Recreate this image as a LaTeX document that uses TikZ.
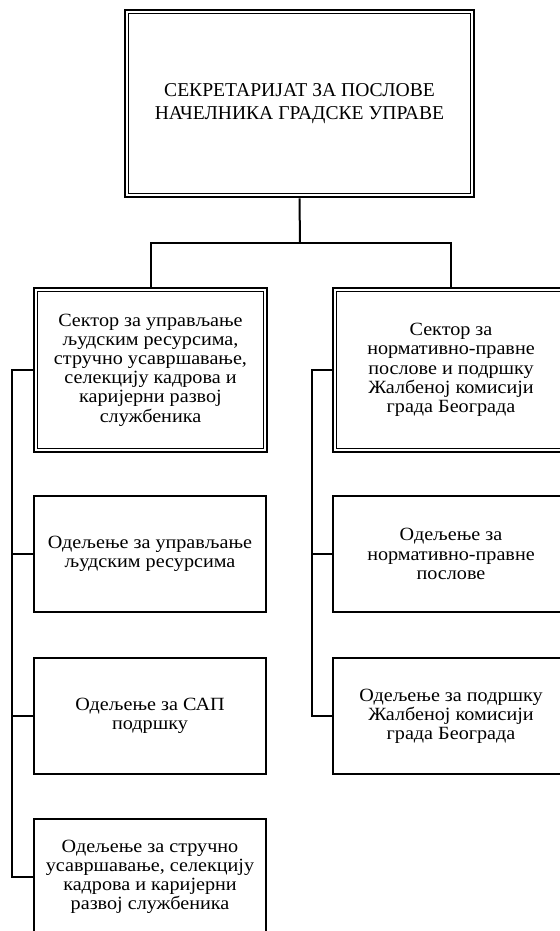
\documentclass[tikz,border=0pt]{standalone}
\usepackage{fontspec}
\setmainfont{Liberation Serif}
\newfontfamily\siroki[FakeStretch=1.08]{Liberation Serif}
\usetikzlibrary{calc}

\tikzset{
  kutija/.style={draw, line width=1.6pt, align=center, inner sep=2pt,
    font=\siroki\fontsize{14}{14.4}\selectfont},
  dupla/.style={kutija, line width=2pt},
  veza/.style={line width=1.5pt},
}

\begin{document}
\begin{tikzpicture}[x=0.75pt,y=-0.75pt]
\useasboundingbox (0,0) rectangle (560,931);

% sekretarijat (gore)
\node[dupla, minimum width=261.75pt, minimum height=140.25pt,
  font=\fontsize{14.7}{17.2}\selectfont] (sek) at (299.5,103.5)
  {СЕКРЕТАРИЈАТ ЗА ПОСЛОВЕ\\НАЧЕЛНИКА ГРАДСКЕ УПРАВЕ};

% sektori
\node[dupla, minimum width=174.75pt, minimum height=123pt] (sektorA) at (150.5,370)
  {Сектор за управљање\\људским ресурсима,\\стручно усавршавање,\\селекцију кадрова и\\каријерни развој\\службеника};
\node[dupla, minimum width=177pt, minimum height=123pt] (sektorB) at (451,370)
  {Сектор за\\нормативно-правне\\послове и подршку\\Жалбеној комисији\\града Београда};

% unutrasnja linija duplih okvira
\foreach \n in {sek,sektorA,sektorB}
  \draw[line width=0.9pt] ($(\n.north west)+(4.5,4.5)$) rectangle ($(\n.south east)+(-4.5,-4.5)$);

% odeljenja (levo)
\node[kutija, minimum width=174pt, minimum height=87pt] (odA1) at (150,554)
  {Одељење за управљање\\људским ресурсима};
\node[kutija, minimum width=174pt, minimum height=87pt] (odA2) at (150,716)
  {Одељење за САП\\подршку};
\node[kutija, minimum width=174pt, minimum height=87pt] (odA3) at (150,877)
  {Одељење за стручно\\усавршавање, селекцију\\кадрова и каријерни\\развој службеника};

% odeljenja (desno)
\node[kutija, minimum width=177pt, minimum height=87pt] (odB1) at (451,554)
  {Одељење за\\нормативно-правне\\послове};
\node[kutija, minimum width=177pt, minimum height=87pt] (odB2) at (451,716)
  {Одељење за подршку\\Жалбеној комисији\\града Београда};

% veze
\coordinate (grana) at (300,243);
\coordinate (stubA) at (12,0);
\coordinate (stubB) at (312,0);

\draw[veza] (sek.south) -- (grana);
\draw[veza] (sektorA.north) |- (grana) -| (sektorB.north);

\draw[veza] (sektorA.west) -- (sektorA.west -| stubA) |- (odA3.west);
\foreach \n in {odA1,odA2}
  \draw[veza] (\n.west) -- (\n.west -| stubA);

\draw[veza] (sektorB.west) -- (sektorB.west -| stubB) |- (odB2.west);
\draw[veza] (odB1.west) -- (odB1.west -| stubB);

\end{tikzpicture}
\end{document}
